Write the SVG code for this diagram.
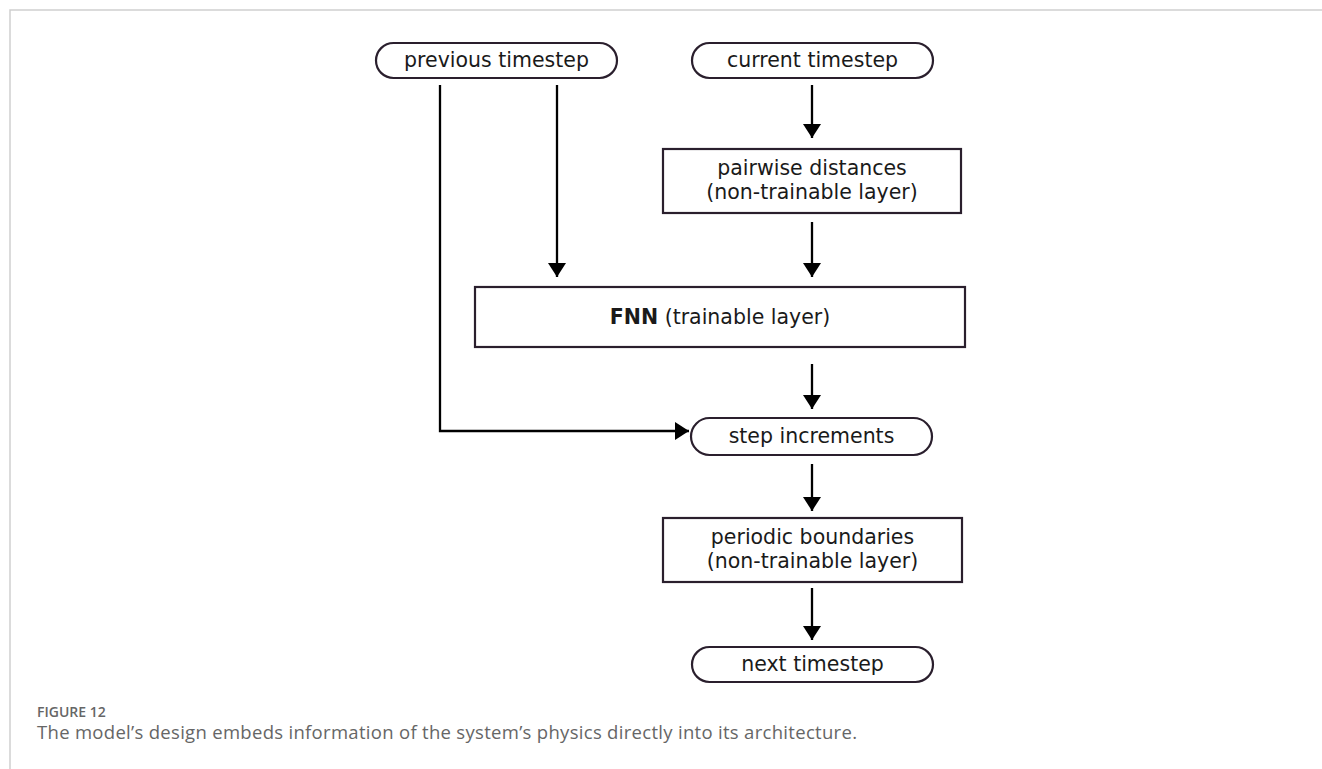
<svg xmlns="http://www.w3.org/2000/svg" width="1322" height="769" viewBox="0 0 1322 769">
<defs>
<style>
.box{fill:#fff;stroke:#2a1f2d;stroke-width:2.2}
.lbl{font-family:"DejaVu Sans",Verdana,sans-serif;font-size:20.5px;fill:#1a1a1a;text-anchor:middle}
.edge{fill:none;stroke:#000;stroke-width:2.3}
.frame{fill:none;stroke:#cfcfcf;stroke-width:1.5}
.cap{font-family:"Open Sans","Noto Sans",sans-serif;fill:#666}
</style>
<marker id="ah" viewBox="0 0 14 18" refX="14" refY="9" markerWidth="14" markerHeight="18" markerUnits="userSpaceOnUse" orient="auto">
<path d="M0,0 L14,9 L0,18 Z" fill="#000"/>
</marker>
</defs>
<rect width="1322" height="769" fill="#fff"/>
<path class="frame" d="M10,769 V10 H1322"/>
<g id="connectors">
<path class="edge" d="M812,85 V138" marker-end="url(#ah)"/>
<path class="edge" d="M557,85 V277" marker-end="url(#ah)"/>
<path class="edge" d="M812,222 V277" marker-end="url(#ah)"/>
<path class="edge" d="M812,364 V409" marker-end="url(#ah)"/>
<path class="edge" d="M440,85 V431 H689" marker-end="url(#ah)"/>
<path class="edge" d="M812,464 V511" marker-end="url(#ah)"/>
<path class="edge" d="M812,588 V640" marker-end="url(#ah)"/>
</g>
<g id="previous-timestep">
<rect class="box" x="376" y="43" width="241" height="35" rx="17.5"/>
<text class="lbl" x="496.5" y="67">previous timestep</text>
</g>
<g id="current-timestep">
<rect class="box" x="692" y="43" width="241" height="35" rx="17.5"/>
<text class="lbl" x="812.5" y="67">current timestep</text>
</g>
<g id="pairwise-distances">
<rect class="box" x="663" y="149" width="298" height="64"/>
<text class="lbl" x="812" y="175">pairwise distances</text>
<text class="lbl" x="812" y="199">(non-trainable layer)</text>
</g>
<g id="fnn">
<rect class="box" x="475" y="287" width="490" height="60"/>
<text class="lbl" x="720" y="324"><tspan font-weight="bold">FNN</tspan> (trainable layer)</text>
</g>
<g id="step-increments">
<rect class="box" x="691" y="418" width="241" height="37" rx="18.5"/>
<text class="lbl" x="811.5" y="443">step increments</text>
</g>
<g id="periodic-boundaries">
<rect class="box" x="663" y="518" width="299" height="64"/>
<text class="lbl" x="812.5" y="544">periodic boundaries</text>
<text class="lbl" x="812.5" y="568">(non-trainable layer)</text>
</g>
<g id="next-timestep">
<rect class="box" x="692" y="647" width="241" height="35" rx="17.5"/>
<text class="lbl" x="812.5" y="671">next timestep</text>
</g>
<text class="cap" x="37" y="717" font-size="14" font-weight="600" fill="#555">FIGURE 12</text>
<text class="cap" x="37" y="739" font-size="18.5" letter-spacing="0.3">The model’s design embeds information of the system’s physics directly into its architecture.</text>
</svg>
